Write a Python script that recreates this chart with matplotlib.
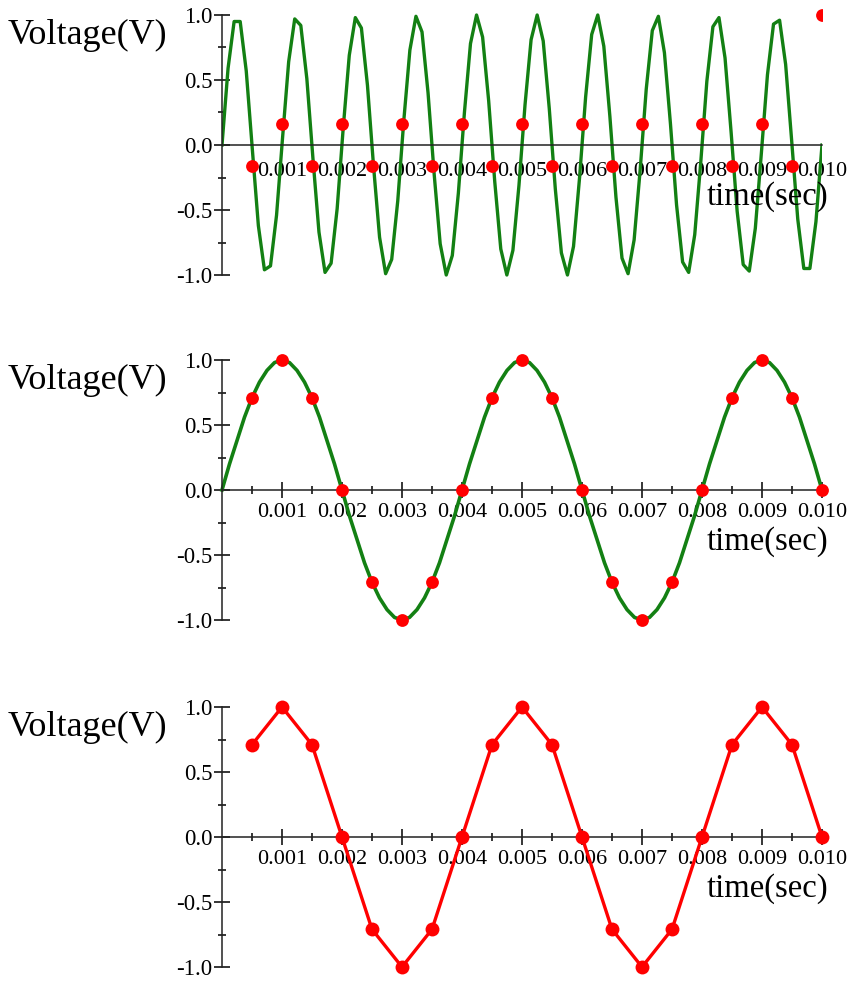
import numpy as np
import matplotlib.pyplot as plt
from matplotlib.ticker import FixedLocator

plt.rcParams["font.family"] = ["Liberation Serif", "DejaVu Serif"]

# top panel: fast signal drawn through 100 plot points, plus its samples
fast_v = [0.00, 0.59, 0.95, 0.95, 0.57, -0.03, -0.62, -0.96, -0.93, -0.54,
          0.06, 0.64, 0.97, 0.92, 0.51, -0.10, -0.67, -0.98, -0.91, -0.49,
          0.13, 0.69, 0.98, 0.90, 0.46, -0.16, -0.71, -0.99, -0.88, -0.43,
          0.19, 0.73, 0.99, 0.87, 0.40, -0.22, -0.76, -1.00, -0.85, -0.37,
          0.25, 0.78, 1.00, 0.83, 0.34, -0.28, -0.80, -1.00, -0.81, -0.31,
          0.31, 0.81, 1.00, 0.80, 0.28, -0.34, -0.83, -1.00, -0.78, -0.25,
          0.37, 0.85, 1.00, 0.76, 0.22, -0.40, -0.87, -0.99, -0.73, -0.19,
          0.43, 0.88, 0.99, 0.71, 0.16, -0.46, -0.90, -0.98, -0.69, -0.13,
          0.49, 0.91, 0.98, 0.67, 0.10, -0.51, -0.92, -0.97, -0.64, -0.06,
          0.54, 0.93, 0.96, 0.62, 0.03, -0.57, -0.95, -0.95, -0.59, 0.00]
fast_t = np.linspace(0, 0.010, len(fast_v))
fast_samples = [-0.16, 0.16, -0.16, 0.16, -0.16, 0.16, -0.16, 0.16, -0.16, 0.16,
                -0.16, 0.16, -0.16, 0.16, -0.16, 0.16, -0.16, 0.16, -0.16, 1.00]

# middle / bottom: 250 Hz signal and its samples
slow_v = [0.00, 0.20, 0.38, 0.56, 0.71, 0.83, 0.92, 0.98, 1.00, 0.98, 0.92, 0.83, 0.71, 0.56, 0.38, 0.20,
          0.00, -0.20, -0.38, -0.56, -0.71, -0.83, -0.92, -0.98, -1.00, -0.98, -0.92, -0.83, -0.71, -0.56, -0.38, -0.20,
          0.00, 0.20, 0.38, 0.56, 0.71, 0.83, 0.92, 0.98, 1.00, 0.98, 0.92, 0.83, 0.71, 0.56, 0.38, 0.20,
          0.00, -0.20, -0.38, -0.56, -0.71, -0.83, -0.92, -0.98, -1.00, -0.98, -0.92, -0.83, -0.71, -0.56, -0.38, -0.20,
          0.00, 0.20, 0.38, 0.56, 0.71, 0.83, 0.92, 0.98, 1.00, 0.98, 0.92, 0.83, 0.71, 0.56, 0.38, 0.20, 0.00]
slow_t = np.linspace(0, 0.010, len(slow_v))
slow_samples = [0.71, 1.00, 0.71, 0.00, -0.71, -1.00, -0.71, 0.00, 0.71, 1.00,
                0.71, 0.00, -0.71, -1.00, -0.71, 0.00, 0.71, 1.00, 0.71, 0.00]
sample_t = np.arange(1, 21) * 0.0005

xticks = [0.001, 0.002, 0.003, 0.004, 0.005, 0.006, 0.007, 0.008, 0.009, 0.010]
xlabels = ["0.001", "0.002", "0.003", "0.004", "0.005", "0.006", "0.007", "0.008", "0.009", "0.010"]
yticks = [-1.0, -0.5, 0.0, 0.5, 1.0]
ylabels = ["-1.0", "-0.5", "0.0", "0.5", "1.0"]

GREEN = "#138013"
RED = "#ff0000"
W, H = 854, 981

fig = plt.figure(figsize=(W / 100, H / 100), dpi=100)


def panel(top_px, xtick_marks=True):
    ax = fig.add_axes([222 / W, 1 - (top_px + 266.5) / H, 600 / W, 273 / H])
    ax.set_xlim(0, 0.010)
    ax.set_ylim(-1.05, 1.05)
    for s in ["top", "right"]:
        ax.spines[s].set_visible(False)
    ax.spines["bottom"].set_position(("data", 0))
    ax.spines["left"].set_bounds(-1, 1)
    for s in ["bottom", "left"]:
        ax.spines[s].set_linewidth(1.1)
        ax.spines[s].set_color("#222222")
    ax.set_xticks(xticks)
    ax.set_xticklabels(xlabels)
    ax.set_yticks(yticks)
    ax.set_yticklabels(ylabels)
    ax.yaxis.set_minor_locator(FixedLocator([-0.75, -0.25, 0.25, 0.75]))
    ax.tick_params(axis="y", which="major", direction="inout", length=11, width=1.1,
                   labelsize=16.5, pad=1.5)
    ax.tick_params(axis="y", which="minor", direction="inout", length=6, width=1.1)
    if xtick_marks:
        ax.xaxis.set_minor_locator(FixedLocator(list(np.arange(1, 20, 2) * 0.0005)))
        ax.tick_params(axis="x", which="major", direction="inout", length=11, width=1.1,
                       labelsize=16, pad=4)
        ax.tick_params(axis="x", which="minor", direction="inout", length=6, width=1.1)
    else:
        ax.tick_params(axis="x", which="major", length=0, labelsize=16, pad=12)
    ax.patch.set_visible(False)
    ax.text(0.0101, -0.395, "time(sec)", ha="right", va="center", fontsize=23.5)
    fig.text(8 / W, 1 - (top_px + 20) / H, "Voltage(V)", ha="left", va="center", fontsize=26)
    return ax


ax1 = panel(15, xtick_marks=False)
ax1.plot(fast_t, fast_v, color=GREEN, lw=2.4, zorder=2)
ax1.scatter(sample_t, fast_samples, s=85, color=RED, zorder=3, clip_on=True, linewidths=0)

ax2 = panel(360)
ax2.plot(slow_t, slow_v, color=GREEN, lw=2.6, zorder=2, clip_on=False)
ax2.scatter(sample_t, slow_samples, s=85, color=RED, zorder=3, clip_on=False, linewidths=0)

ax3 = panel(707)
ax3.plot(sample_t, slow_samples, color=RED, lw=2.4, marker="o", markersize=10,
         markeredgewidth=0, zorder=3, clip_on=False)

fig.savefig("out.png", dpi=100)
